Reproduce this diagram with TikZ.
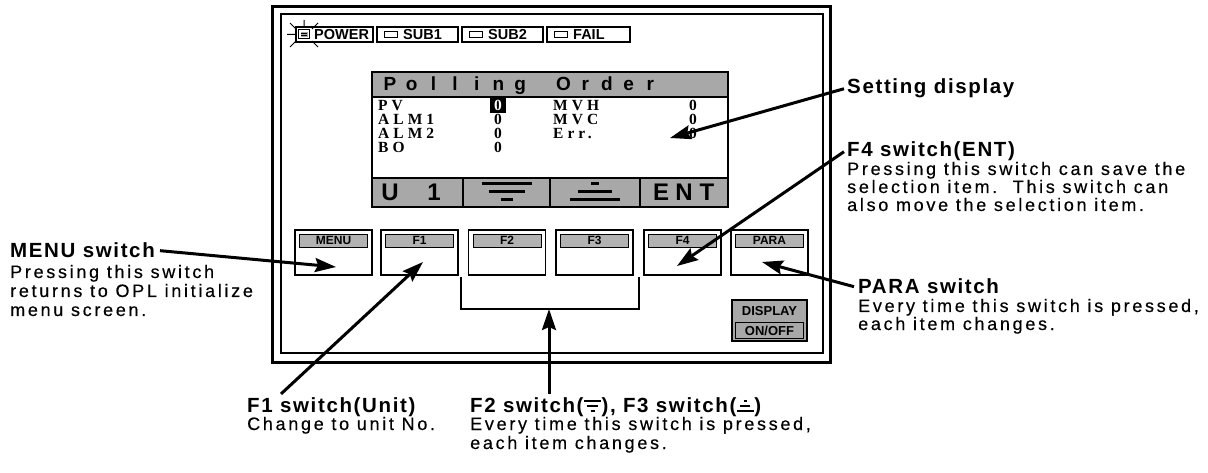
\documentclass[tikz,border=0pt]{standalone}
\usepackage{fontspec}
\setmainfont{Liberation Sans}
\newfontfamily\hdfont[LetterSpace=8]{Liberation Sans}
\newfontfamily\bdfont[LetterSpace=15,FakeBold=0.35]{Liberation Sans}
\newfontfamily\lcdfont[LetterSpace=26]{Liberation Serif}
\newfontfamily\lcdzfont{Liberation Serif}
\usetikzlibrary{arrows.meta}
\definecolor{lcdgray}{gray}{0.66}
\definecolor{stripgray}{gray}{0.70}
\newcommand\barline[1]{\hbox to 18pt{\hss\vrule width #1pt height 2.2pt depth 0pt\hss}}
\newcommand\symdn{\vbox{\offinterlineskip\barline{17}\kern2.8pt\barline{11}\kern2.8pt\barline{4}}}
\newcommand\symup{\vbox{\offinterlineskip\barline{3}\kern2.8pt\barline{10}\kern2.8pt\barline{17}}}
\tikzset{
  head/.style={anchor=base west, inner sep=0pt, font=\hdfont\bfseries\fontsize{20.5}{24}\selectfont},
  bodytxt/.style={anchor=base west, inner sep=0pt, font=\bdfont\fontsize{18}{20}\selectfont},
  arr/.style={line width=3pt, -{Stealth[length=21pt,width=14pt,inset=3pt]}},
  stbox/.style={draw, line width=1.2pt, minimum height=15pt, inner sep=0pt},
  sttxt/.style={anchor=west, inner sep=0pt, font=\bfseries\fontsize{14.5}{16}\selectfont},
  swbox/.style={draw, line width=1.3pt, minimum width=77pt, minimum height=45pt, inner sep=0pt},
  swstrip/.style={draw, line width=0.8pt, fill=stripgray, minimum width=68pt, minimum height=13pt, inner sep=0pt, font=\bfseries\fontsize{12}{13}\selectfont},
  lcdt/.style={anchor=base, inner sep=0pt, font=\bfseries\fontsize{19}{21}\selectfont},
  lcdbig/.style={anchor=base, inner sep=0pt, font=\bfseries\fontsize{24}{26}\selectfont},
  lcdb/.style={anchor=base west, inner sep=0pt, font=\lcdfont\bfseries\fontsize{15.5}{16}\selectfont},
  lcdz/.style={anchor=base, inner sep=0pt, font=\lcdzfont\bfseries\fontsize{15.5}{16}\selectfont},
  symline/.style={line width=3pt}
}
\begin{document}
\begin{tikzpicture}[x=1pt,y=-1pt]
\useasboundingbox (0,0) rectangle (1208,473);
% frame
\draw[line width=3pt] (272,7) rectangle (830,362);
\draw[line width=1.2pt] (281,14) rectangle (823,353);
% status row
\node[stbox, minimum width=77pt] (pw) at (334.5,34.5) {};
\node[stbox, minimum width=81pt] (s1) at (417.5,34.5) {};
\node[stbox, minimum width=81pt] (s2) at (502.5,34.5) {};
\node[stbox, minimum width=83pt] (fl) at (588.5,34.5) {};
\draw[line width=1pt] (298.5,30) rectangle (309.5,39);
\fill[black!35] (300.5,32) rectangle (307.5,37);
\draw[line width=0.5pt] (301,33.5) -- (307,33.5) (301,35.5) -- (307,35.5);
\draw[line width=1pt] (287,34.5) -- (295,34.5) (290,23) -- (296,29) (304,20) -- (304,27.5)
  (312,29) -- (318,23) (290,47) -- (296,41) (312,41) -- (318,47);
\node[sttxt] (pwt) at (314,34.5) {POWER};
\draw[line width=1pt] (384,31.5) rectangle (397,37.5);
\node[sttxt] (s1t) at (403,34.5) {SUB1};
\draw[line width=1pt] (469,31.5) rectangle (482,37.5);
\node[sttxt] (s2t) at (488,34.5) {SUB2};
\draw[line width=1pt] (554,31.5) rectangle (567,37.5);
\node[sttxt] (flt) at (573,34.5) {FAIL};
% LCD
\fill[lcdgray] (372,72) rectangle (728,97);
\fill[lcdgray] (372,178) rectangle (728,207);
\draw[line width=1.2pt] (372,97) -- (728,97) (372,178) -- (728,178)
  (463,178) -- (463,207) (550,178) -- (550,207) (640,178) -- (640,207);
\draw[line width=1.5pt] (372,72) rectangle (728,207);
\foreach \c/\k in {P/0,o/1,l/2,l/3,i/4,n/5,g/6,O/8,r/9,d/10,e/11,r/12}
  \node[lcdt] (t\k) at ({390+\k*21.7},91) {\c};
\node[lcdb] (pv) at (378,111) {PV};
\node[lcdb] (a1) at (378,125) {ALM1};
\node[lcdb] (a2) at (378,139) {ALM2};
\node[lcdb] (bo) at (378,153) {BO};
\fill (490,98.5) rectangle (506,113.5);
\node[lcdz, text=white] (z1) at (498,111) {0};
\node[lcdz] (z2) at (498,125) {0};
\node[lcdz] (z3) at (498,139) {0};
\node[lcdz] (z4) at (498,153) {0};
\node[lcdb] (mvh) at (553,111) {MVH};
\node[lcdb] (mvc) at (553,125) {MVC};
\node[lcdb] (err) at (553,139) {Err.};
\node[lcdz] (r1) at (693,111) {0};
\node[lcdz] (r2) at (693,125) {0};
\node[lcdz] (r3) at (693,139) {0};
\node[lcdbig] (bu) at (390,201) {U};
\node[lcdbig] (b1) at (434,201) {1};
\node[lcdbig] (be) at (661,201) {E};
\node[lcdbig] (bn) at (684,201) {N};
\node[lcdbig] (bt) at (707,201) {T};
\draw[symline] (481.5,184) -- (531.5,184) (488.5,192) -- (524.5,192) (500.5,200) -- (512.5,200);
\draw[symline] (591,184) -- (599,184) (578,192) -- (612,192) (570,200) -- (620,200);
% switches
\foreach \n/\x/\t in {sm/333.5/MENU,sf1/419.5/F1,sf2/507/F2,sf3/594.5/F3,sf4/682.5/F4,spa/769.5/PARA}{
  \node[swbox] (\n) at (\x,252.5) {};
  \node[swstrip] (\n l) at (\x,240.5) {\t};
}
% display on/off
\node[draw, line width=1.2pt, fill=lcdgray, minimum width=75pt, minimum height=41pt, inner sep=0pt] (disp) at (769.5,320.5) {};
\node[draw, line width=1pt, minimum width=68pt, minimum height=16pt, inner sep=0pt] (onoff) at (769.5,330.5) {};
\node[inner sep=0pt, font=\bfseries\fontsize{13}{14}\selectfont] (dispt) at (769.5,311) {DISPLAY};
\node[inner sep=0pt, font=\bfseries\fontsize{13}{14}\selectfont] (onofft) at (769.5,330.5) {ON/OFF};
% bracket
\coordinate (brk) at (549,309);
\draw[line width=2.2pt] (461,277) -- (461,309) -- (639,309) -- (639,277);
% annotations
\node[head] (sethead) at (847,94) {Setting display};
\node[head] (f4head) at (847,157) {F4 switch(ENT)};
\node[bodytxt] (f4b1) at (847,175) {Pressing this switch can save the};
\node[bodytxt] (f4b2) at (847,193) {selection item.\ \ This switch can};
\node[bodytxt] (f4b3) at (847,211) {also move the selection item.};
\node[head] (parahead) at (858,294) {PARA switch};
\node[bodytxt] (parab1) at (858,312) {Every time this switch is pressed,};
\node[bodytxt] (parab2) at (858,330) {each item changes.};
\node[head] (menuhead) at (10,258) {MENU switch};
\node[bodytxt] (menub1) at (10,278) {Pressing this switch};
\node[bodytxt] (menub2) at (10,297) {returns to OPL initialize};
\node[bodytxt] (menub3) at (10,316) {menu screen.};
\node[head] (f1head) at (247,412) {F1 switch(Unit)};
\node[bodytxt] (f1b1) at (247,430) {Change to unit No.};
\node[head] (f2head) at (470,412) {F2 switch(\symdn),\ F3 switch(\symup)};
\node[bodytxt] (f2b1) at (470,430) {Every time this switch is pressed,};
\node[bodytxt] (f2b2) at (470,449) {each item changes.};
% arrow tips
\coordinate (settip) at (670,138);
\coordinate (f4tip) at (677,266);
\coordinate (paratip) at (762,262);
\coordinate (menutip) at (336,267);
\coordinate (f1tip) at (423,262);
\draw[arr] ([xshift=-3pt]sethead.west) -- (settip);
\draw[arr] ([xshift=-3pt]f4head.west) -- (f4tip);
\draw[arr] ([xshift=-4pt]parahead.west) -- (paratip);
\draw[arr] ([xshift=5pt]menuhead.east) -- (menutip);
\draw[arr] ([shift={(34,-3)}]f1head.north west) -- (f1tip);
\draw[arr] ([shift={(79,-3)}]f2head.north west) -- (brk);
\end{tikzpicture}
\end{document}
